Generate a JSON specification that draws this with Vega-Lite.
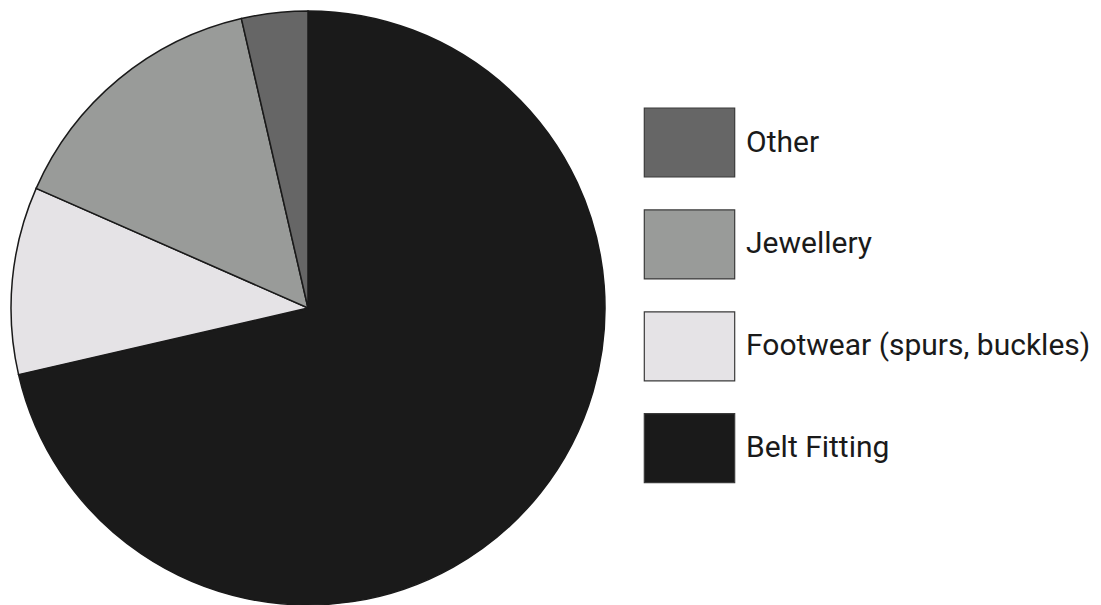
{
  "$schema": "https://vega.github.io/schema/vega-lite/v6.json",
  "width": 616,
  "height": 616,
  "padding": 0,
  "autosize": "pad",
  "background": "white",
  "data": {
    "values": [
      {"category": "Belt Fitting", "share": 71.4, "order": 1},
      {"category": "Footwear (spurs, buckles)", "share": 10.2, "order": 2},
      {"category": "Jewellery", "share": 14.8, "order": 3},
      {"category": "Other", "share": 3.6, "order": 4}
    ]
  },
  "mark": {"type": "arc", "outerRadius": 297, "stroke": "#1a1a1a", "strokeWidth": 1.5},
  "encoding": {
    "theta": {"field": "share", "type": "quantitative", "stack": true},
    "order": {"field": "order", "type": "quantitative"},
    "color": {
      "field": "category",
      "type": "nominal",
      "scale": {
        "domain": ["Other", "Jewellery", "Footwear (spurs, buckles)", "Belt Fitting"],
        "range": ["#666666", "#999b99", "#e5e3e6", "#1a1a1a"]
      },
      "legend": {
        "title": null,
        "orient": "none",
        "legendX": 654,
        "legendY": 107,
        "symbolType": "M-1.31,-1H1.31V1H-1.31Z",
        "symbolSize": 4761,
        "symbolStrokeColor": "#3a3a3a",
        "symbolStrokeWidth": 1.2,
        "symbolOpacity": 1,
        "labelFont": "Roboto",
        "labelFontSize": 30,
        "labelColor": "#1a1a1a",
        "labelOffset": 21,
        "labelLimit": 500,
        "rowPadding": 26.9
      }
    }
  }
}
